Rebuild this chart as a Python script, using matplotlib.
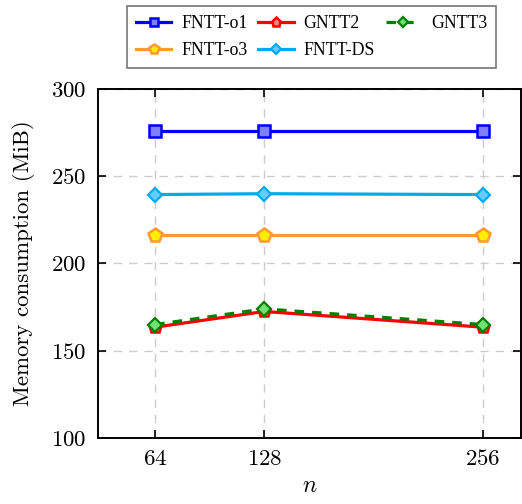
import matplotlib
matplotlib.use("Agg")
import matplotlib.pyplot as plt

plt.rcParams['mathtext.fontset'] = 'cm'
plt.rcParams['font.family'] = 'serif'
plt.rcParams['font.serif'] = ['cmr10']
plt.rcParams['axes.formatter.use_mathtext'] = True

# données
n_vals = [64, 128, 256]
fntt_o1 = [276, 276, 276]
gntt2 = [163.5, 172.5, 163.5]
gntt3 = [165, 174, 165]
fntt_o3 = [216.5, 216.5, 216.5]
fntt_ds = [239.5, 240, 239.5]
y_ticks = [100, 150, 200, 250, 300]

fig = plt.figure(figsize=(5.22, 5.04), dpi=100)
ax = fig.add_axes([0.1877, 0.131, 0.811, 0.6924])

lw = 2.3
h1, = ax.plot(n_vals, fntt_o1, color='#0000ff', lw=lw, marker='s', ms=8,
              mfc='#8080ff', mec='#0000ff', mew=1.8, label='FNTT-o1', zorder=3)
h2, = ax.plot(n_vals, gntt2, color='#ff0000', lw=lw, marker='p', ms=9,
              mfc='#ff8080', mec='#ff0000', mew=1.8, label='GNTT2', zorder=3)
h3, = ax.plot(n_vals, gntt3, color='#008000', lw=lw, ls=(0, (3, 2.5)), marker='D', ms=7,
              mfc='#70e070', mec='#008000', mew=1.6, label='GNTT3', zorder=4)
h4, = ax.plot(n_vals, fntt_o3, color='#ff9933', lw=lw, marker='p', ms=10,
              mfc='#ffee00', mec='#ff9933', mew=1.8, label='FNTT-o3', zorder=3)
h5, = ax.plot(n_vals, fntt_ds, color='#00aaee', lw=lw, marker='D', ms=7,
              mfc='#66ccff', mec='#00aaee', mew=1.6, label='FNTT-DS', zorder=3)

ax.set_xlim(30.5, 278.5)
ax.set_ylim(100, 300)
ax.set_xticks(n_vals)
ax.set_yticks(y_ticks)
ax.tick_params(direction='in', length=6, width=1.2, labelsize=16.5, pad=8,
               top=True, right=True)
for s in ax.spines.values():
    s.set_linewidth(1.4)
ax.grid(True, color='#cccccc', ls=(0, (6, 5)), lw=1.0)
ax.set_axisbelow(True)

ax.set_xlabel(r'$n$', fontsize=17, labelpad=4)
ax.set_ylabel('Memory consumption (MiB)', fontsize=16.5, labelpad=12)

# ordre pour remplir ligne par ligne
handles = [h1, h4, h2, h5, h3]
labels = [h.get_label() for h in handles]
leg = fig.legend(handles, labels, loc='center', bbox_to_anchor=(0.5967, 0.9266), ncol=3,
                 prop={'family': 'Liberation Serif', 'size': 12.8},
                 frameon=True, fancybox=False, edgecolor='#555555',
                 handlelength=2.0, columnspacing=0.6, handletextpad=0.55,
                 borderpad=0.5, labelspacing=0.55, numpoints=1, markerscale=0.75)
leg.get_frame().set_linewidth(1.2)

fig.savefig('out.png', dpi=100)
